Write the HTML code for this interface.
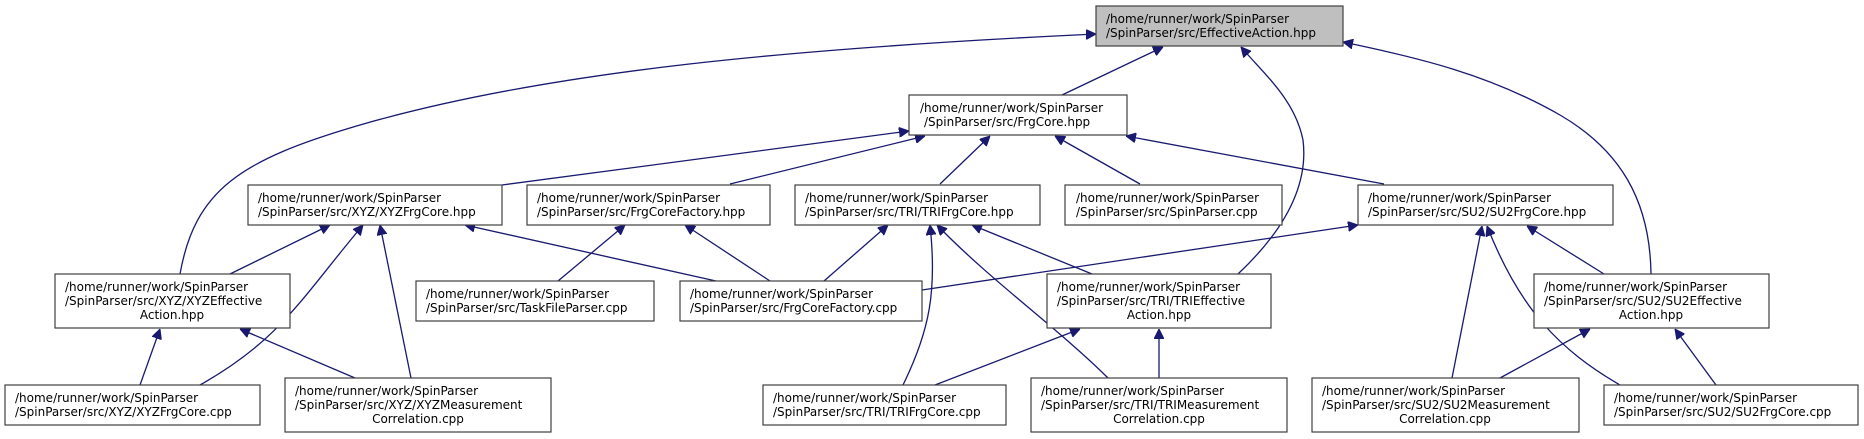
<!DOCTYPE html>
<html><head><meta charset="utf-8"><style>
html,body{margin:0;padding:0;background:#fff;}
svg{display:block;}
text{font-family:"DejaVu Sans","Liberation Sans",sans-serif;font-size:12px;fill:#000;}
rect{fill:#fff;stroke:#404040;stroke-width:1.2;}
path{fill:none;stroke:#191970;stroke-width:1.3;}
</style></head><body>
<svg width="1864" height="439" viewBox="0 0 1864 439" xmlns="http://www.w3.org/2000/svg">
<defs><marker id="a" viewBox="0 0 10 10" refX="10" refY="5" markerWidth="10" markerHeight="10" markerUnits="userSpaceOnUse" orient="auto"><path d="M0,0 L10,5 L0,10 z" style="fill:#191970;stroke:#191970;stroke-width:1"/></marker></defs>
<g marker-end="url(#a)">
<path d="M180,274 C195,190 240,160 360,125 C550,70 800,48 1096,34"/>
<path d="M1062,95 L1163,47"/>
<path d="M1238,274 C1290,225 1308,180 1303,140 C1295,100 1265,75 1241,47"/>
<path d="M1651,274 C1650,200 1620,150 1560,115 C1490,75 1420,58 1343,42"/>
<path d="M502,185 L909,131"/>
<path d="M730,184 L925,136"/>
<path d="M940,184 L990,136"/>
<path d="M1140,184 L1055,136"/>
<path d="M1384,184 L1126,136"/>
<path d="M230,274 L330,225"/>
<path d="M200,385 C280,340 300,300 363,225"/>
<path d="M411,378 L380,225"/>
<path d="M716,281 L465,225"/>
<path d="M558,281 L625,225"/>
<path d="M770,281 L685,225"/>
<path d="M824,281 L888,225"/>
<path d="M903,385 C930,330 937,290 930,225"/>
<path d="M1108,378 C1060,330 990,280 937,225"/>
<path d="M1092,274 L972,225"/>
<path d="M922,290 L1358,225"/>
<path d="M1452,378 L1482,226"/>
<path d="M1620,385 C1560,350 1520,310 1487,226"/>
<path d="M1604,274 L1527,226"/>
<path d="M140,385 L160,329"/>
<path d="M355,378 L240,329"/>
<path d="M935,385 L1080,329"/>
<path d="M1159,378 L1159,329"/>
<path d="M1500,378 L1590,329"/>
<path d="M1716,385 L1675,329"/>
</g>
<rect x="1096" y="6" width="247" height="40" style="fill:#bfbfbf"/>
<text x="1106" y="23">/home/runner/work/SpinParser</text><text x="1106" y="37">/SpinParser/src/EffectiveAction.hpp</text>
<rect x="909" y="95" width="218" height="40"/>
<text x="920" y="112">/home/runner/work/SpinParser</text><text x="924" y="126">/SpinParser/src/FrgCore.hpp</text>
<rect x="248" y="185" width="254" height="40"/>
<text x="258" y="202">/home/runner/work/SpinParser</text><text x="258" y="216">/SpinParser/src/XYZ/XYZFrgCore.hpp</text>
<rect x="527" y="185" width="243" height="40"/>
<text x="537" y="202">/home/runner/work/SpinParser</text><text x="537" y="216">/SpinParser/src/FrgCoreFactory.hpp</text>
<rect x="795" y="185" width="245" height="40"/>
<text x="805" y="202">/home/runner/work/SpinParser</text><text x="805" y="216">/SpinParser/src/TRI/TRIFrgCore.hpp</text>
<rect x="1065" y="185" width="217" height="40"/>
<text x="1076" y="202">/home/runner/work/SpinParser</text><text x="1076" y="216">/SpinParser/src/SpinParser.cpp</text>
<rect x="1358" y="185" width="255" height="40"/>
<text x="1368" y="202">/home/runner/work/SpinParser</text><text x="1368" y="216">/SpinParser/src/SU2/SU2FrgCore.hpp</text>
<rect x="55" y="274" width="235" height="54"/>
<text x="65" y="291">/home/runner/work/SpinParser</text><text x="65" y="305">/SpinParser/src/XYZ/XYZEffective</text><text x="172" y="319" text-anchor="middle">Action.hpp</text>
<rect x="416" y="281" width="238" height="40"/>
<text x="426" y="298">/home/runner/work/SpinParser</text><text x="426" y="312">/SpinParser/src/TaskFileParser.cpp</text>
<rect x="680" y="281" width="242" height="40"/>
<text x="690" y="298">/home/runner/work/SpinParser</text><text x="690" y="312">/SpinParser/src/FrgCoreFactory.cpp</text>
<rect x="1047" y="274" width="224" height="54"/>
<text x="1057" y="291">/home/runner/work/SpinParser</text><text x="1057" y="305">/SpinParser/src/TRI/TRIEffective</text><text x="1159" y="319" text-anchor="middle">Action.hpp</text>
<rect x="1534" y="274" width="235" height="54"/>
<text x="1544" y="291">/home/runner/work/SpinParser</text><text x="1544" y="305">/SpinParser/src/SU2/SU2Effective</text><text x="1651" y="319" text-anchor="middle">Action.hpp</text>
<rect x="5" y="385" width="255" height="40"/>
<text x="15" y="402">/home/runner/work/SpinParser</text><text x="15" y="416">/SpinParser/src/XYZ/XYZFrgCore.cpp</text>
<rect x="285" y="378" width="266" height="54"/>
<text x="295" y="395">/home/runner/work/SpinParser</text><text x="295" y="409">/SpinParser/src/XYZ/XYZMeasurement</text><text x="418" y="423" text-anchor="middle">Correlation.cpp</text>
<rect x="763" y="385" width="243" height="40"/>
<text x="773" y="402">/home/runner/work/SpinParser</text><text x="773" y="416">/SpinParser/src/TRI/TRIFrgCore.cpp</text>
<rect x="1031" y="378" width="256" height="54"/>
<text x="1041" y="395">/home/runner/work/SpinParser</text><text x="1041" y="409">/SpinParser/src/TRI/TRIMeasurement</text><text x="1159" y="423" text-anchor="middle">Correlation.cpp</text>
<rect x="1312" y="378" width="267" height="54"/>
<text x="1322" y="395">/home/runner/work/SpinParser</text><text x="1322" y="409">/SpinParser/src/SU2/SU2Measurement</text><text x="1445" y="423" text-anchor="middle">Correlation.cpp</text>
<rect x="1604" y="385" width="254" height="40"/>
<text x="1614" y="402">/home/runner/work/SpinParser</text><text x="1614" y="416">/SpinParser/src/SU2/SU2FrgCore.cpp</text>
</svg>
</body></html>
